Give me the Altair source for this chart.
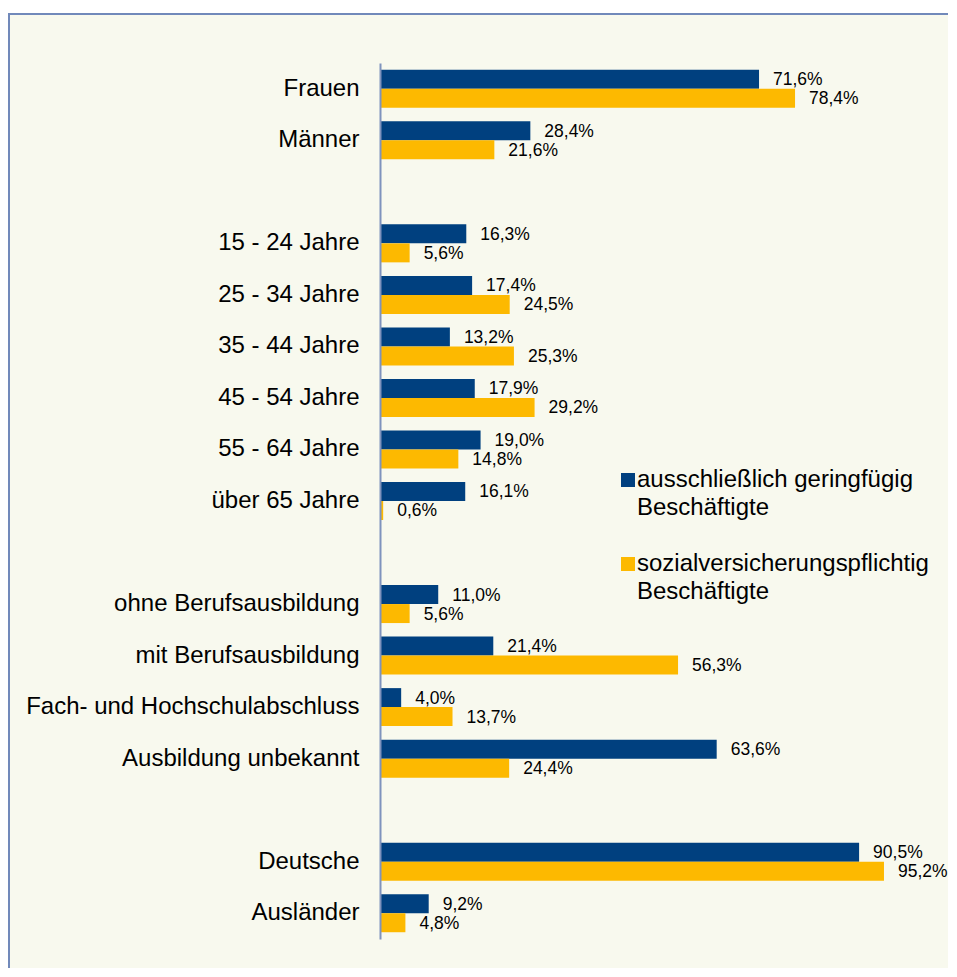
import altair as alt
import pandas as pd

categories = ["Frauen", "Männer", "_gap1",
              "15 - 24 Jahre", "25 - 34 Jahre", "35 - 44 Jahre",
              "45 - 54 Jahre", "55 - 64 Jahre", "über 65 Jahre", "_gap2",
              "ohne Berufsausbildung", "mit Berufsausbildung",
              "Fach- und Hochschulabschluss", "Ausbildung unbekannt", "_gap3",
              "Deutsche", "Ausländer"]
real_categories = [c for c in categories if not c.startswith("_gap")]

series = ["ausschließlich geringfügig Beschäftigte",
          "sozialversicherungspflichtig Beschäftigte"]
legend_lines = [["ausschließlich geringfügig", "Beschäftigte"],
                ["sozialversicherungspflichtig", "Beschäftigte"]]
colors = ["#00407F", "#FDB900"]

geringfuegig = [71.6, 28.4, 16.3, 17.4, 13.2, 17.9, 19.0, 16.1,
                11.0, 21.4, 4.0, 63.6, 90.5, 9.2]
svpflichtig = [78.4, 21.6, 5.6, 24.5, 25.3, 29.2, 14.8, 0.6,
               5.6, 56.3, 13.7, 24.4, 95.2, 4.8]

rows = []
for cat, a, b in zip(real_categories, geringfuegig, svpflichtig):
    rows.append({"cat": cat, "series": series[0], "value": a,
                 "label": f"{a:.1f}".replace(".", ",") + "%"})
    rows.append({"cat": cat, "series": series[1], "value": b,
                 "label": f"{b:.1f}".replace(".", ",") + "%"})
df = pd.DataFrame(rows)

FONT = "Liberation Sans"
W, H = 529.4, 876
PAD = {"left": 372, "top": 55, "right": 39, "bottom": 29}

step_pad = 1 - 38 / (H / len(categories))

y_enc = alt.Y("cat:N", scale=alt.Scale(domain=categories, paddingInner=step_pad,
                                       paddingOuter=step_pad / 2),
              sort=categories,
              axis=alt.Axis(title=None, ticks=False, labelPadding=21,
                            labelFontSize=24, labelFont=FONT, labelColor="#000000",
                            labelLimit=400, domainColor="#7F93BD", domainWidth=2,
                            zindex=1,
                            labelExpr="indexof(datum.label, '_gap') == 0 ? '' : datum.label"))
yoff = alt.YOffset("series:N", scale=alt.Scale(domain=series, paddingInner=0, paddingOuter=0))
x_enc = alt.X("value:Q", scale=alt.Scale(domain=[0, 100]), axis=None)
color_enc = alt.Color("series:N", scale=alt.Scale(domain=series, range=colors), legend=None)

frame = alt.Chart(alt.Data(values=[{}])).mark_rect(
    fill="#F8F9EE", stroke="#7189BA", strokeWidth=2
).encode(x=alt.value(-371), x2=alt.value(W + 200), y=alt.value(-49), y2=alt.value(H + 200))

bars = alt.Chart(df).mark_bar().encode(y=y_enc, yOffset=yoff, x=x_enc, color=color_enc)

texts = alt.Chart(df).mark_text(align="left", baseline="middle", dx=14, dy=1,
                                fontSize=17.5, font=FONT, color="#000000").encode(
    y=y_enc, yOffset=yoff, x=x_enc, text="label:N")

legend_layers = []
sq_y = [417, 501]
txt_y = [424, 508]
for i in range(2):
    legend_layers.append(
        alt.Chart(alt.Data(values=[{}])).mark_square(size=196, color=colors[i], opacity=1)
        .encode(x=alt.value(248), y=alt.value(sq_y[i])))
    legend_layers.append(
        alt.Chart(alt.Data(values=[{}])).mark_text(
            align="left", baseline="alphabetic", fontSize=24, font=FONT,
            color="#000000", lineBreak="\n", lineHeight=28)
        .encode(x=alt.value(257), y=alt.value(txt_y[i]),
                text=alt.value("\n".join(legend_lines[i]))))

chart = alt.layer(frame, bars, texts, *legend_layers).properties(
    width=W, height=H, padding=PAD, autosize="none", background="white"
).configure_view(stroke=None)

chart.save("out.html", embed_options={"renderer": "svg", "actions": False})
